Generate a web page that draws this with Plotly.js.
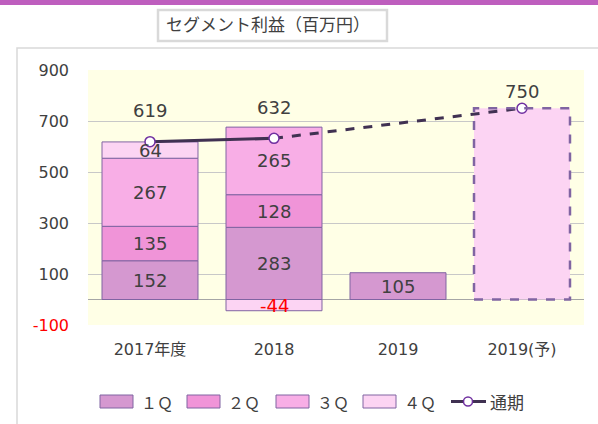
<!DOCTYPE html>
<html>
<head>
<meta charset="utf-8">
<script src="https://cdn.plot.ly/plotly-3.0.1.min.js"></script>
<style>html,body{margin:0;padding:0;background:#fff;}#chart{width:598px;height:424px;}</style>
</head>
<body>
<div id="chart"></div>
<script>
const categories = ["2017年度", "2018", "2019", "2019(予)"];
const q1 = [152, 283, 105, null];
const q2 = [135, 128, null, null];
const q3 = [267, 265, null, null];
const q4 = [64, -44, null, null];
const forecast = [null, null, null, 750];
const totals = [619, 632, null, 750];
const seriesNames = ["１Ｑ", "２Ｑ", "３Ｑ", "４Ｑ"];
const yTickVals = [900, 700, 500, 300, 100, -100];
const yTickText = ["900", "700", "500", "300", "100", "-100"];

const colors = ["#D598D0", "#F094D8", "#F8AEE6", "#FCD4F3"];
const edge = "#8064A2";
const font = "DejaVu Sans, Noto Sans CJK JP, sans-serif";

// plot area pixels
const L = 88, R = 584, T = 70, B = 325;
const px = v => (v - L) / (R - L);
const py = v => (B - v) / (B - T);

const quarters = [q1, q2, q3, q4];
const traces = quarters.map((arr, s) => ({
  type: "bar", x: categories, y: arr, name: seriesNames[s],
  marker: {color: colors[s], line: {color: edge, width: 1}},
  hoverinfo: "skip", showlegend: false
}));
traces.push({
  type: "bar", x: categories, y: forecast, name: "予",
  marker: {color: colors[3], line: {width: 0}}, hoverinfo: "skip", showlegend: false
});

// total line: solid actual, dashed to forecast
const solidX = [], solidY = [], dashX = [], dashY = [];
for (let i = 0; i < categories.length; i++) {
  if (totals[i] == null) continue;
  if (forecast[i] == null) { solidX.push(categories[i]); solidY.push(totals[i]); }
}
const lastActual = solidX.length - 1;
dashX.push(solidX[lastActual]); dashY.push(solidY[lastActual]);
for (let i = 0; i < categories.length; i++) {
  if (forecast[i] != null) { dashX.push(categories[i]); dashY.push(totals[i]); }
}
traces.push({type: "scatter", mode: "lines", x: dashX, y: dashY,
  line: {color: "#403152", width: 3, dash: "dash"}, hoverinfo: "skip", showlegend: false});
traces.push({type: "scatter", mode: "lines", x: solidX, y: solidY,
  line: {color: "#403152", width: 3}, hoverinfo: "skip", showlegend: false});
traces.push({type: "scatter", mode: "markers", x: categories, y: totals,
  marker: {color: "#fff", size: 10, line: {color: "#7030A0", width: 1.5}},
  hoverinfo: "skip", showlegend: false});

const annotations = [];
for (let i = 0; i < categories.length; i++) {
  let pos = 0, neg = 0;
  quarters.forEach((arr) => {
    const v = arr[i];
    if (v == null) return;
    let mid;
    if (v >= 0) { mid = pos + v / 2; pos += v; } else { mid = neg + v / 2; neg += v; }
    annotations.push({x: i, y: mid, xref: "x", yref: "y", text: String(v),
      showarrow: false, font: {family: font, size: 18, color: v < 0 ? "#FF0000" : "#404040"}});
  });
}
const totalShift = {0: 31, 1: 31, 3: 17};
totals.forEach((v, i) => {
  if (v == null) return;
  annotations.push({x: i, y: v, xref: "x", yref: "y", text: String(v),
    showarrow: false, yshift: totalShift[i], font: {family: font, size: 18, color: "#404040"}});
});

// legend (custom)
const legY0 = py(408), legY1 = py(395), legYc = py(401.5);
const boxX = [100, 187, 276, 363];
const shapes = [];
boxX.forEach((x, s) => {
  shapes.push({type: "rect", xref: "paper", yref: "paper", x0: px(x), x1: px(x + 33), y0: legY0, y1: legY1,
    fillcolor: colors[s], line: {color: edge, width: 1}});
  annotations.push({xref: "paper", yref: "paper", x: px(x + 39), y: legYc, xanchor: "left", yanchor: "middle",
    text: seriesNames[s], showarrow: false, font: {family: "Noto Sans CJK JP, sans-serif", size: 16, color: "#404040"}});
});
shapes.push({type: "line", xref: "paper", yref: "paper", x0: px(451), x1: px(486), y0: legYc, y1: legYc,
  line: {color: "#403152", width: 3}});
shapes.push({type: "circle", xref: "paper", yref: "paper", x0: px(463.5), x1: px(472.5), y0: py(406), y1: py(397),
  fillcolor: "#fff", line: {color: "#7030A0", width: 1.5}});
annotations.push({xref: "paper", yref: "paper", x: px(488), y: legYc, xanchor: "left", yanchor: "middle",
  text: "通期", showarrow: false, font: {family: "Noto Sans CJK JP, sans-serif", size: 17, color: "#404040"}});

// forecast dashed outline
const fi = forecast.findIndex(v => v != null);
const halfW = 0.387;
shapes.push({type: "rect", xref: "x", yref: "y", x0: fi - halfW, x1: fi + halfW, y0: 0, y1: forecast[fi],
  fillcolor: "rgba(0,0,0,0)", line: {color: edge, width: 2.5, dash: "dash"}, layer: "above"});

// decorations: top bar, frame, title box
shapes.push({type: "rect", xref: "paper", yref: "paper", x0: px(-5), x1: px(605), y0: py(5), y1: py(-5),
  fillcolor: "#BE5EBE", line: {width: 0}});
shapes.push({type: "rect", xref: "paper", yref: "paper", x0: px(17), x1: px(610), y0: py(440), y1: py(48),
  fillcolor: "rgba(0,0,0,0)", line: {color: "#D9D9D9", width: 1.5}});
shapes.push({type: "rect", xref: "paper", yref: "paper", x0: px(158), x1: px(387), y0: py(41), y1: py(10),
  fillcolor: "#fff", line: {color: "#D9D9D9", width: 2.5}, layer: "below"});

const layout = {
  width: 598, height: 424,
  margin: {l: L, r: 598 - R, t: T, b: 424 - B, pad: 0},
  paper_bgcolor: "#fff", plot_bgcolor: "#FFFFE6",
  barmode: "relative", bargap: 0.226,
  title: {text: "セグメント利益（百万円）", xref: "container", yref: "container", x: 268 / 598, y: 1 - 25 / 424,
    xanchor: "center", yanchor: "middle", font: {family: "Noto Sans CJK JP, sans-serif", size: 17, color: "#404040"}},
  xaxis: {type: "category", categoryarray: categories, categoryorder: "array", range: [-0.5, categories.length - 0.5],
    showgrid: false, showline: false, ticks: "", ticklabelstandoff: 13,
    tickfont: {family: font, size: 16, color: "#404040"}, fixedrange: true},
  yaxis: {range: [-100, 900], tickvals: yTickVals,
    ticktext: yTickText.map(t => t.startsWith("-") ? '<span style="color:#FF0000">' + t + '</span>' : t),
    showgrid: true, gridcolor: "#C8C8C8", gridwidth: 1,
    zeroline: true, zerolinecolor: "#A6A6A6", zerolinewidth: 1,
    showline: false, ticks: "", ticklabelstandoff: 18,
    tickfont: {family: font, size: 16, color: "#404040"}, fixedrange: true},
  shapes: shapes, annotations: annotations, showlegend: false
};

Plotly.newPlot("chart", traces, layout, {displayModeBar: false, staticPlot: true});
</script>
</body>
</html>
